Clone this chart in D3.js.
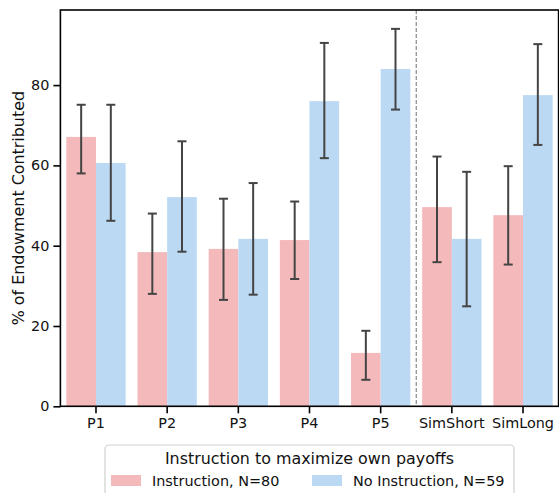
<!DOCTYPE html>
<html>
<head>
<meta charset="utf-8">
<script src="https://cdn.jsdelivr.net/npm/d3@7"></script>
<style>
  html, body { margin: 0; padding: 0; background: #fff; }
  svg { display: block; }
  text { font-family: "DejaVu Sans", sans-serif; }
</style>
</head>
<body>
<svg id="chart" width="559" height="493"></svg>
<script>
// ---- data ----
const categories = ["P1", "P2", "P3", "P4", "P5", "SimShort", "SimLong"];
const seriesNames = ["Instruction, N=80", "No Instruction, N=59"];
const instructionMean = [67.1, 38.4, 39.2, 41.4, 13.3, 49.6, 47.6];
const instructionLow  = [58.0, 28.0, 26.5, 31.7, 6.6, 35.9, 35.3];
const instructionHigh = [75.1, 48.0, 51.7, 51.0, 18.8, 62.2, 59.8];
const noInstructionMean = [60.6, 52.1, 41.7, 76.0, 84.0, 41.7, 77.5];
const noInstructionLow  = [46.2, 38.5, 27.8, 61.8, 73.9, 24.9, 65.1];
const noInstructionHigh = [75.1, 66.0, 55.6, 90.5, 94.0, 58.4, 90.2];
const yTicks = [0, 20, 40, 60, 80];
const yLabel = "% of Endowment Contributed";
const legendTitle = "Instruction to maximize own payoffs";
const colors = ["#f4b9ba", "#bcd9f4"];

const rows = [];
categories.forEach((c, i) => {
  rows.push({cat: c, s: 0, mean: instructionMean[i], lo: instructionLow[i], hi: instructionHigh[i]});
  rows.push({cat: c, s: 1, mean: noInstructionMean[i], lo: noInstructionLow[i], hi: noInstructionHigh[i]});
});

const svg = d3.select("#chart");
const mLeft = 60.4, mRight = 558.6, mTop = 10, mBottom = 406.3;
const fs = "14.4px";
const fsBig = "15.9px";

const x = d3.scaleBand().domain(categories).range([mLeft, mRight]).paddingInner(0).paddingOuter(0);
const xs = d3.scaleBand().domain([0, 1]).range([0, x.bandwidth()]).paddingOuter(0.2).paddingInner(0);
const y = d3.scaleLinear().domain([0, 98.7]).range([mBottom, mTop]);

// bars
svg.append("g").selectAll("rect").data(rows).join("rect")
  .attr("x", d => x(d.cat) + xs(d.s))
  .attr("width", xs.bandwidth())
  .attr("y", d => y(d.mean))
  .attr("height", d => y(0) - y(d.mean))
  .attr("fill", d => colors[d.s]);

// error bars
const eb = svg.append("g").attr("stroke", "#444").attr("stroke-width", 2);
rows.forEach(d => {
  const cx = x(d.cat) + xs(d.s) + xs.bandwidth() / 2;
  eb.append("line").attr("x1", cx).attr("x2", cx).attr("y1", y(d.lo)).attr("y2", y(d.hi));
  eb.append("line").attr("x1", cx - 4.5).attr("x2", cx + 4.5).attr("y1", y(d.lo)).attr("y2", y(d.lo));
  eb.append("line").attr("x1", cx - 4.5).attr("x2", cx + 4.5).attr("y1", y(d.hi)).attr("y2", y(d.hi));
});

// dashed separator between P5 and SimShort
const sepX = x("SimShort");
svg.append("line")
  .attr("x1", sepX).attr("x2", sepX).attr("y1", mTop).attr("y2", mBottom)
  .attr("stroke", "#888").attr("stroke-width", 1.2).attr("stroke-dasharray", "4,2");

// axes
const yAxis = svg.append("g").attr("transform", `translate(${mLeft},0)`)
  .call(d3.axisLeft(y).tickValues(yTicks).tickSize(7).tickPadding(4));
const xAxis = svg.append("g").attr("transform", `translate(0,${mBottom})`)
  .call(d3.axisBottom(x).tickSize(7).tickPadding(4));
[yAxis, xAxis].forEach(a => {
  a.select(".domain").remove();
  a.selectAll(".tick line").attr("stroke", "#000").attr("stroke-width", 1.6);
  a.selectAll(".tick text").attr("fill", "#111").style("font-size", fs).style("font-family", "DejaVu Sans");
});

// frame
svg.append("rect").attr("x", mLeft).attr("y", mTop).attr("width", mRight - mLeft).attr("height", mBottom - mTop)
  .attr("fill", "none").attr("stroke", "#000").attr("stroke-width", 1.6);

// y label
svg.append("text")
  .attr("transform", `translate(24,${(mTop + mBottom) / 2}) rotate(-90)`)
  .attr("text-anchor", "middle")
  .style("font-size", fsBig).attr("fill", "#111")
  .text(yLabel);

// legend
const lg = svg.append("g");
lg.append("rect").attr("x", 105).attr("y", 445).attr("width", 409).attr("height", 60)
  .attr("rx", 4).attr("fill", "#fff").attr("stroke", "#d0d0d0").attr("stroke-width", 1.2);
lg.append("text").attr("x", 309.5).attr("y", 463.5).attr("text-anchor", "middle")
  .style("font-size", fsBig).attr("fill", "#111").text(legendTitle);
const legX = [111, 312];
seriesNames.forEach((n, i) => {
  lg.append("rect").attr("x", legX[i]).attr("y", 475).attr("width", 30).attr("height", 11).attr("fill", colors[i]);
  lg.append("text").attr("x", legX[i] + 41).attr("y", 485.5).style("font-size", fs).attr("fill", "#111").text(n);
});
</script>
</body>
</html>
